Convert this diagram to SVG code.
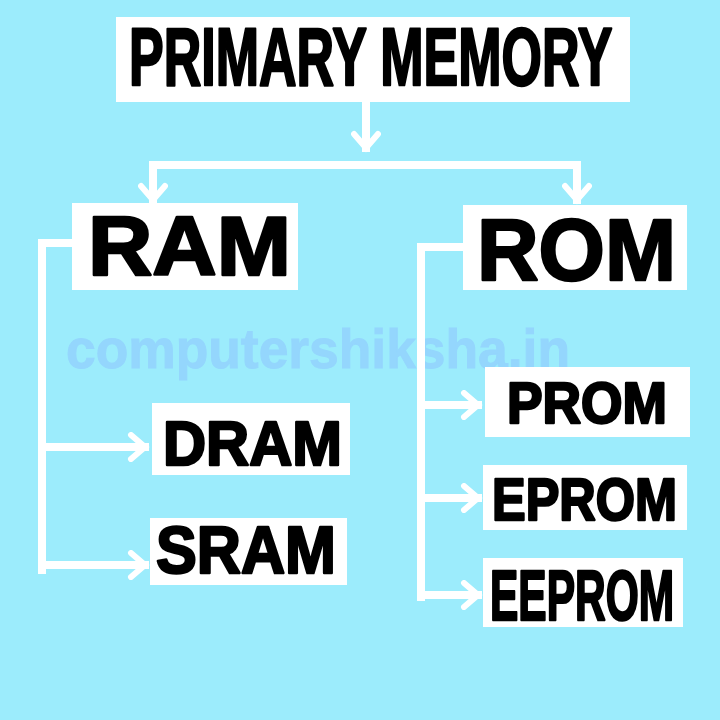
<svg xmlns="http://www.w3.org/2000/svg" width="720" height="720" viewBox="0 0 720 720">
  <style>
    .box { fill: #ffffff; }
    .lbl { font-family: "Liberation Sans", Arial, sans-serif; font-weight: bold; fill: #000000; stroke: #000000; stroke-width: 2.5; stroke-linejoin: round; }
    .wire { stroke: #ffffff; stroke-width: 8; fill: none; stroke-linecap: square; }
    .wm { font-family: "Liberation Sans", Arial, sans-serif; font-weight: bold; fill: #94d6fd; stroke: #94d6fd; stroke-width: 1; }
  </style>
  <defs>
    <marker id="chev" viewBox="0 0 30 30" refX="24" refY="15" markerWidth="30" markerHeight="30" markerUnits="userSpaceOnUse" orient="auto">
      <path d="M10 3 L24 15 L10 27" fill="none" stroke="#ffffff" stroke-width="6" stroke-linecap="round" stroke-linejoin="miter"/>
    </marker>
  </defs>
  <rect x="0" y="0" width="720" height="720" fill="#9cecfc"/>

  <text class="wm" x="66" y="368" font-size="56" textLength="504" lengthAdjust="spacingAndGlyphs">computershiksha.in</text>

  <g id="connectors">
    <path class="wire" d="M366 101 L366 148" marker-end="url(#chev)"/>
    <path class="wire" d="M153 165 L577 165"/>
    <path class="wire" d="M153 165 L153 200" marker-end="url(#chev)"/>
    <path class="wire" d="M577 165 L577 200" marker-end="url(#chev)"/>
    <path class="wire" d="M72 243 L42 243 L42 570"/>
    <path class="wire" d="M42 447 L145 447" marker-end="url(#chev)"/>
    <path class="wire" d="M42 565 L145 565" marker-end="url(#chev)"/>
    <path class="wire" d="M463 247 L421 247 L421 597"/>
    <path class="wire" d="M421 405 L478 405" marker-end="url(#chev)"/>
    <path class="wire" d="M421 498 L478 498" marker-end="url(#chev)"/>
    <path class="wire" d="M421 595 L478 595" marker-end="url(#chev)"/>
  </g>

  <g id="primary">
    <rect class="box" x="116" y="17" width="514" height="85"/>
    <text class="lbl" x="0" y="0" font-size="81" transform="translate(129,85) scale(0.642,1)">PRIMARY MEMORY</text>
  </g>
  <g id="ram">
    <rect class="box" x="72" y="203" width="226" height="87"/>
    <text class="lbl" x="88" y="275" font-size="84" textLength="203" lengthAdjust="spacingAndGlyphs">RAM</text>
  </g>
  <g id="rom">
    <rect class="box" x="463" y="205" width="224" height="85"/>
    <text class="lbl" x="477" y="280" font-size="88" textLength="199" lengthAdjust="spacingAndGlyphs">ROM</text>
  </g>
  <g id="dram">
    <rect class="box" x="152" y="403" width="198" height="72"/>
    <text class="lbl" x="163" y="465" font-size="63" textLength="179" lengthAdjust="spacingAndGlyphs">DRAM</text>
  </g>
  <g id="sram">
    <rect class="box" x="150" y="518" width="197" height="67"/>
    <text class="lbl" x="156" y="573" font-size="67" textLength="180" lengthAdjust="spacingAndGlyphs">SRAM</text>
  </g>
  <g id="prom">
    <rect class="box" x="485" y="367" width="205" height="70"/>
    <text class="lbl" x="507" y="423" font-size="57" textLength="160" lengthAdjust="spacingAndGlyphs">PROM</text>
  </g>
  <g id="eprom">
    <rect class="box" x="483" y="465" width="204" height="65"/>
    <text class="lbl" x="0" y="0" font-size="60" transform="translate(492,520) scale(0.841,1)">EPROM</text>
  </g>
  <g id="eeprom">
    <rect class="box" x="483" y="558" width="200" height="69"/>
    <text class="lbl" x="0" y="0" font-size="70" transform="translate(490,620) scale(0.607,1)">EEPROM</text>
  </g>
</svg>
